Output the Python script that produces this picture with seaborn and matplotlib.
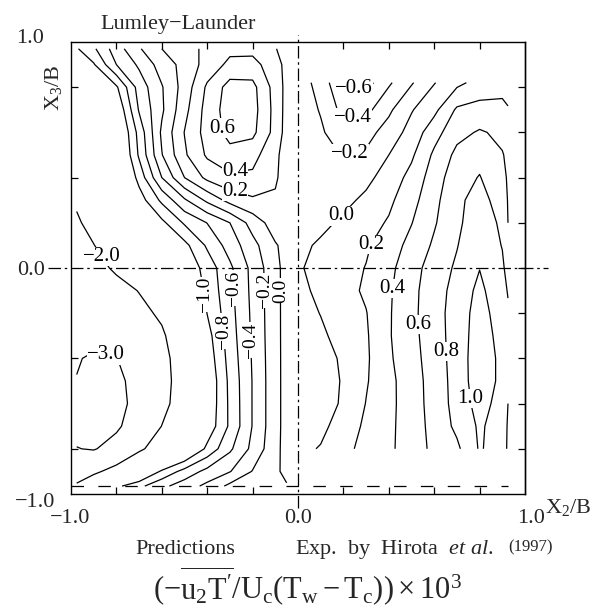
import numpy as np
import matplotlib
matplotlib.use("Agg")
import matplotlib.pyplot as plt
import seaborn as sns

# ---- predictions (left half): grid of values ----
x_pred = [-0.975, -0.9, -0.8, -0.7, -0.6, -0.5, -0.4, -0.3, -0.2, -0.1, -0.05]
y_pred = [0.97, 0.9, 0.8, 0.7, 0.6, 0.5, 0.4, 0.3, 0.2, 0.1, 0.0,
          -0.1, -0.2, -0.3, -0.4, -0.5, -0.6, -0.7, -0.8, -0.9, -0.965]
z_pred = [
    [-1.02, -0.833, -0.494, -0.221, 0.0, 0.129, 0.241, 0.35, 0.34, 0.21, 0.12],
    [-1.15, -1.02, -0.6, -0.366, -0.111, 0.067, 0.277, 0.45, 0.47, 0.28, 0.14],
    [-1.3, -1.15, -1.03, -0.514, -0.215, 0.084, 0.434, 0.68, 0.66, 0.32, 0.14],
    [-1.5, -1.35, -1.2, -0.58, -0.232, 0.139, 0.477, 0.70, 0.68, 0.333, 0.13],
    [-1.6, -1.5, -1.3, -0.73, -0.164, 0.206, 0.482, 0.66, 0.65, 0.33, 0.12],
    [-1.7, -1.6, -1.35, -0.77, -0.21, 0.17, 0.43, 0.54, 0.47, 0.25, 0.1],
    [-1.8, -1.7, -1.4, -0.93, -0.4, 0.0, 0.25, 0.36, 0.36, 0.23, 0.1],
    [-1.95, -1.7, -1.45, -1.1, -0.756, -0.43, -0.156, 0.07, 0.17, 0.17, 0.1],
    [-2.05, -1.875, -1.6, -1.32, -1.05, -0.774, -0.595, -0.4, -0.117, 0.1, 0.1],
    [-2.3, -2.01, -1.77, -1.53, -1.29, -1.06, -0.77, -0.514, -0.267, -0.018, 0.06],
    [-2.45, -2.2, -1.91, -1.66, -1.42, -1.17, -0.915, -0.64, -0.34, -0.056, 0.07],
    [-2.6, -2.4, -2.2, -1.98, -1.645, -1.29, -0.947, -0.655, -0.348, -0.058, 0.07],
    [-2.75, -2.55, -2.35, -2.15, -1.91, -1.45, -0.995, -0.675, -0.359, -0.059, 0.07],
    [-2.9, -2.75, -2.55, -2.3, -2.08, -1.61, -1.08, -0.698, -0.367, -0.06, 0.07],
    [-2.95, -3.1, -3.02, -2.6, -2.18, -1.69, -1.13, -0.723, -0.38, -0.062, 0.07],
    [-3.02, -3.2, -3.15, -2.77, -2.23, -1.69, -1.18, -0.75, -0.39, -0.063, 0.07],
    [-3.3, -3.35, -3.2, -2.79, -2.19, -1.66, -1.17, -0.76, -0.39, -0.063, 0.07],
    [-3.2, -3.3, -3.12, -2.59, -1.99, -1.56, -1.14, -0.765, -0.39, -0.063, 0.07],
    [-2.98, -3.05, -2.71, -2.1, -1.7, -1.33, -0.95, -0.635, -0.348, -0.054, 0.07],
    [-2.4, -2.15, -1.72, -1.33, -0.963, -0.728, -0.54, -0.41, -0.19, -0.05, 0.07],
    [-1.9, -1.45, -1.05, -0.85, -0.65, -0.5, -0.35, -0.15, -0.08, -0.03, -0.02],
]
levels_pred = [-3.0, -2.0, -1.0, -0.8, -0.6, -0.4, -0.2, 0.0, 0.2, 0.4, 0.6]

# ---- experiment (right half) ----
x_exp = [0.0, 0.1, 0.2, 0.3, 0.4, 0.5, 0.6, 0.7, 0.8, 0.9, 0.925]
y_exp = [0.82, 0.7, 0.6, 0.5, 0.4, 0.3, 0.2, 0.1, 0.0,
         -0.1, -0.2, -0.3, -0.4, -0.5, -0.6, -0.7, -0.8]
z_exp = [
    [-0.1, -0.273, -0.61, -0.68, -0.431, -0.22, -0.01, 0.15, 0.27, 0.33, 0.34],
    [-0.12, -0.21, -0.47, -0.46, -0.238, -0.015, 0.149, 0.43, 0.47, 0.45, 0.41],
    [-0.12, -0.18, -0.29, -0.27, -0.117, 0.077, 0.32, 0.54, 0.62, 0.56, 0.5],
    [-0.12, -0.17, -0.205, -0.17, 0.0, 0.167, 0.438, 0.65, 0.74, 0.61, 0.57],
    [-0.1, -0.12, -0.1, -0.05, 0.085, 0.263, 0.5, 0.72, 0.81, 0.65, 0.58],
    [-0.09, -0.09, -0.05, 0.04, 0.158, 0.33, 0.546, 0.755, 0.88, 0.7, 0.59],
    [-0.08, -0.05, 0.035, 0.122, 0.22, 0.393, 0.58, 0.76, 0.92, 0.76, 0.6],
    [-0.05, 0.03, 0.103, 0.175, 0.302, 0.463, 0.63, 0.79, 0.97, 0.79, 0.65],
    [-0.02, 0.057, 0.13, 0.207, 0.347, 0.525, 0.686, 0.832, 0.995, 0.84, 0.72],
    [-0.05, 0.042, 0.13, 0.23, 0.372, 0.548, 0.706, 0.874, 1.05, 0.85, 0.79],
    [-0.07, 0.005, 0.099, 0.192, 0.379, 0.553, 0.713, 0.895, 1.08, 0.9, 0.82],
    [-0.1, -0.03, 0.063, 0.177, 0.382, 0.544, 0.707, 0.891, 1.1, 0.93, 0.84],
    [-0.12, -0.07, 0.027, 0.17, 0.37, 0.528, 0.696, 0.887, 1.12, 0.95, 0.85],
    [-0.13, -0.08, 0.015, 0.182, 0.348, 0.508, 0.685, 0.879, 1.12, 0.95, 0.84],
    [-0.13, -0.08, 0.024, 0.206, 0.349, 0.502, 0.681, 0.871, 1.08, 0.92, 0.8],
    [-0.1, -0.05, 0.09, 0.236, 0.357, 0.499, 0.665, 0.844, 1.03, 0.9, 0.78],
    [-0.05, 0.013, 0.145, 0.26, 0.363, 0.497, 0.647, 0.76, 1.02, 0.9, 0.77],
]
levels_exp = [-0.6, -0.4, -0.2, 0.0, 0.2, 0.4, 0.6, 0.8, 1.0]

# contour labels: level -> (where, rotation)
labels_pred = {0.6: ((-0.33, 0.62), 0), 0.4: ((-0.28, 0.44), 0), 0.2: ((-0.28, 0.33), 0),
               -2.0: ((-0.82, 0.08), 0), -3.0: ((-0.84, -0.36), 0),
               -1.0: ((-0.43, -0.12), 90), -0.6: ((-0.285, -0.09), 90),
               -0.2: ((-0.152, -0.1), 90), 0.0: ((-0.079, -0.1), 90),
               -0.8: ((-0.33, -0.28), 90), -0.4: ((-0.21, -0.32), 90)}
labels_exp = {-0.6: ((0.24, 0.78), 0), -0.4: ((0.24, 0.67), 0), -0.2: ((0.23, 0.50), 0),
              0.0: ((0.19, 0.23), 0), 0.2: ((0.33, 0.10), 0), 0.4: ((0.41, -0.09), 0),
              0.6: ((0.53, -0.25), 0), 0.8: ((0.656, -0.37), 0), 1.0: ((0.78, -0.575), 0)}

sns.set_theme(style="white")
plt.rcParams["font.family"] = ["Liberation Serif", "DejaVu Serif"]
plt.rcParams["mathtext.fontset"] = "custom"
plt.rcParams["mathtext.rm"] = "Liberation Serif"
plt.rcParams["mathtext.it"] = "Liberation Serif:italic"
plt.rcParams["mathtext.bf"] = "Liberation Serif:bold"

fig = plt.figure(figsize=(6.02, 6.12), dpi=100)
ax = fig.add_axes([71 / 602, 118 / 612, 454 / 602, 452 / 612])
ax.set_xlim(-1, 1)
ax.set_ylim(-1, 1)


def fmt(v):
    return f"{v:.1f}".replace("-", "\u2212")


def draw_field(x, y, z, levels, labels):
    # one contour set per level so each label lands on its own line
    for lev in levels:
        cs = ax.contour(x, y, z, levels=[lev], colors="black",
                        linewidths=0.9, linestyles="solid")
        if lev in labels:
            pos, rot = labels[lev]
            size = 14 if rot else 15
            t = cs.clabel([lev], manual=[pos], inline=False, fmt=fmt, fontsize=size)
            t[-1].set_rotation(rot)
            t[-1].set_bbox(dict(facecolor="white", edgecolor="none", pad=0.1))


draw_field(x_pred, y_pred, z_pred, levels_pred, labels_pred)
draw_field(x_exp, y_exp, z_exp, levels_exp, labels_exp)

# reference lines
ax.axhline(0, xmin=-0.05, xmax=1.05, color="black", lw=0.9,
           ls=(0, (10, 3, 2, 3)), clip_on=False)
ax.axvline(0, ymin=-0.03, ymax=1.015, color="black", lw=0.9,
           ls=(0, (10, 3, 2, 3)), clip_on=False)
ax.axhline(-0.965, xmin=0, xmax=0.9626, color="black", lw=0.9, ls=(0, (10, 11.5)))

# frame and ticks
for s in ax.spines.values():
    s.set_color("black")
    s.set_linewidth(1.0)
ax.set_xticks([-0.8, -0.6, -0.4, -0.2, 0.2, 0.4, 0.6, 0.8])
ax.set_yticks([-0.8, -0.4, 0.4, 0.8])
ax.tick_params(direction="in", length=5, width=0.9, color="black",
               top=True, bottom=True, left=True, right=False,
               labelbottom=False, labelleft=False)
sec = ax.secondary_yaxis("right")
sec.set_yticks([-0.8, -0.6, -0.4, -0.2, 0.0, 0.2, 0.4, 0.6, 0.8])
sec.tick_params(direction="in", length=5, width=0.9, color="black", labelright=False)
sec.spines["right"].set_linewidth(1.0)

fs = 16
ax.text(-1.12, 0.996, "1.0", ha="right", va="baseline", fontsize=fs)
ax.text(-1.115, -0.031, "0.0", ha="right", va="baseline", fontsize=fs)
ax.text(-1.07, -1.058, "\u22121.0", ha="right", va="baseline", fontsize=fs)
ax.text(-1.004, -1.128, "\u22121.0", ha="center", va="baseline", fontsize=fs)
ax.text(0.0, -1.128, "0.0", ha="center", va="baseline", fontsize=fs)
ax.text(0.965, -1.128, "1.0", ha="left", va="baseline", fontsize=fs)
ax.text(1.088, -1.084, r"$\mathrm{X_2/B}$", ha="left", va="baseline", fontsize=fs)
ax.text(-1.079, 0.796, r"$\mathrm{X_3/B}$", ha="center", va="center",
        rotation=90, fontsize=fs)
ax.text(-0.872, 1.058, "Lumley\u2212Launder", ha="left", va="baseline", fontsize=fs)

fig.text(135 / 602, 1 - 554 / 612, "Predictions", ha="left", va="baseline", fontsize=fs)
fig.text(295 / 602, 1 - 554 / 612, r"Exp.  by  Hirota  $\mathit{et\ al.}$",
         ha="left", va="baseline", fontsize=fs)
fig.text(508 / 602, 1 - 551 / 612, "(1997)", ha="left", va="baseline", fontsize=12)
fig.text(153 / 602, 1 - 599 / 612,
         r"$(-\overline{\mathrm{u}_2\mathrm{T}^{\prime}}/\mathrm{U_c(T_w}-\mathrm{T_c))}\times10^3$",
         ha="left", va="baseline", fontsize=22)

fig.savefig("out.png", dpi=100)
